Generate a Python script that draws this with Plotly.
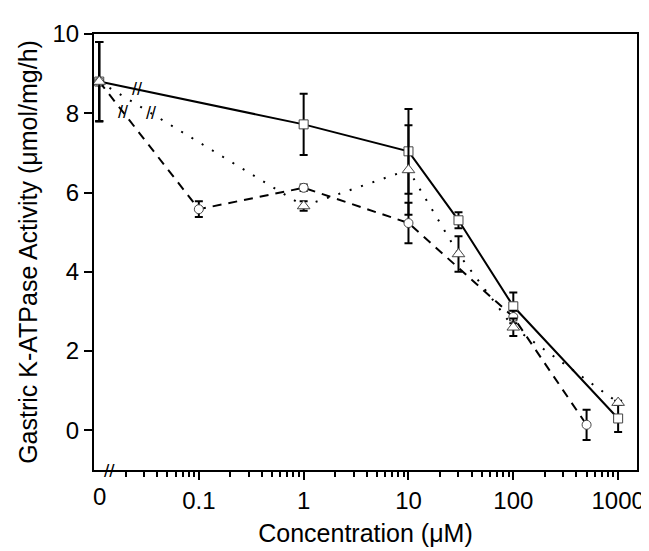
import numpy as np
import plotly.graph_objects as go

# ---------------- data ----------------
sq_conc = [0, 1, 10, 30, 100, 1000]
sq_act = [8.8, 7.72, 7.04, 5.3, 3.13, 0.3]
sq_err = [1.0, 0.77, 1.07, 0.2, 0.35, 0.34]

ci_conc = [0, 0.1, 1, 10, 100, 500]
ci_act = [8.8, 5.58, 6.12, 5.23, 2.86, 0.14]
ci_err = [1.0, 0.2, 0.08, 0.51, 0.16, 0.38]

tr_conc = [0, 1, 10, 30, 100, 1000]
tr_act = [8.8, 5.66, 6.57, 4.45, 2.6, 0.7]
tr_err = [1.0, 0.12, 1.13, 0.45, 0.22, 0.05]

x_tickvals = [0.1, 1, 10, 100, 1000]
x_ticktext = ["0.1", "1", "10", "100", "1000"]
y_tickvals = [0, 2, 4, 6, 8, 10]

# ---------------- plotting helpers ----------------
ZERO_LOG = -1.95            # where concentration "0" is drawn on the log axis
ZERO_POS = 10 ** ZERO_LOG
FONT = "Liberation Sans, Arial, sans-serif"


def xpos(conc):
    return [ZERO_POS if c == 0 else c for c in conc]


fig = go.Figure()

series = [
    (sq_conc, sq_act, sq_err, "solid", "square", 9, -1.59),
    (ci_conc, ci_act, ci_err, "9px,7px", "circle", 9, -1.72),
    (tr_conc, tr_act, tr_err, "2px,10px", "triangle-up", 11, -1.46),
]

annotations = []
for conc, act, err, dash, sym, msize, brk_log in series:
    xs = xpos(conc)
    fig.add_trace(go.Scatter(
        x=xs, y=act, mode="lines+markers",
        line=dict(color="black", width=2, dash=dash),
        marker=dict(symbol=sym, size=msize, color="white",
                    line=dict(color="#444444", width=1)),
        error_y=dict(type="data", array=err, visible=True,
                     color="black", thickness=2, width=4),
        showlegend=False, cliponaxis=False,
    ))
    # axis-break mark "//" on the first segment of every line
    l0, l1 = np.log10(xs[0]), np.log10(xs[1])
    f = (brk_log - l0) / (l1 - l0)
    ybrk = act[0] + f * (act[1] - act[0])
    annotations.append(dict(x=brk_log, y=ybrk, xref="x", yref="y",
                            text="//", showarrow=False,
                            font=dict(family=FONT, size=18, color="black")))

# axis break on the x axis
annotations.append(dict(x=-1.85, y=-1, xref="x", yref="y", text="//",
                        showarrow=False,
                        font=dict(family=FONT, size=19, color="black")))
# "0" tick label (no tick mark in the reference)
annotations.append(dict(x=ZERO_LOG, y=0, xref="x", yref="paper", text="0",
                        yanchor="top", yshift=-11, showarrow=False,
                        font=dict(family=FONT, size=24, color="black")))

minor_vals = [m * 10.0 ** d for d in range(-2, 3) for m in range(2, 10)]

fig.update_layout(
    width=649, height=551,
    margin=dict(l=86, r=14, t=16, b=89),
    plot_bgcolor="white", paper_bgcolor="white",
    font=dict(family=FONT, color="black"),
    annotations=annotations,
    xaxis=dict(
        type="log", range=[-2.0, 3.18],
        showline=True, mirror=True, linecolor="black", linewidth=2,
        ticks="outside", ticklen=8, tickwidth=2, tickcolor="black",
        tickmode="array", tickvals=x_tickvals, ticktext=x_ticktext,
        tickfont=dict(family=FONT, size=24),
        minor=dict(ticks="outside", ticklen=5, tickwidth=1.5,
                   tickcolor="black", tickmode="array", tickvals=minor_vals),
        showgrid=False, zeroline=False,
        title=dict(text="Concentration (μM)",
                   font=dict(family=FONT, size=25), standoff=12),
    ),
    yaxis=dict(
        range=[-1, 10],
        showline=True, mirror=True, linecolor="black", linewidth=2,
        ticks="outside", ticklen=8, tickwidth=2, tickcolor="black",
        tickmode="array", tickvals=y_tickvals,
        tickfont=dict(family=FONT, size=24),
        showgrid=False, zeroline=False,
        title=dict(text="Gastric K-ATPase Activity (μmol/mg/h)",
                   font=dict(family=FONT, size=25), standoff=8),
    ),
)

fig.write_html("out.html")
